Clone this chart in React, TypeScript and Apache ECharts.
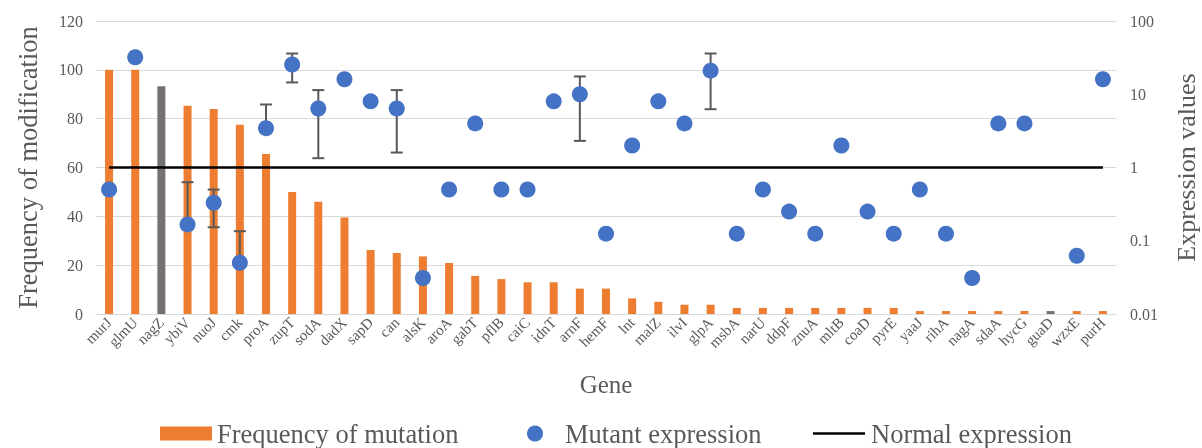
import React, { useEffect, useRef } from "react";
import * as echarts from "echarts";

const genes = ["murJ","glmU","nagZ","ybiV","nuoJ","cmk","proA","zupT","sodA","dadX","sapD","can","alsK","aroA","gabT","pflB","caiC","idnT","arnF","hemF","lnt","malZ","ilvI","glpA","msbA","narU","ddpF","znuA","mltB","coaD","pyrE","yaaJ","rihA","nagA","sdaA","hycG","guaD","wzxE","purH"];

const mutationFreq = [100,100,93.3,85.3,84,77.5,65.5,50,46,39.5,26.2,25,23.6,20.9,15.6,14.3,13,13,10.4,10.4,6.4,5,3.8,3.8,2.5,2.5,2.5,2.5,2.5,2.5,2.5,1.2,1.2,1.2,1.2,1.2,1.2,1.2,1.2];

const mutantExpr: (number | null)[] = [0.5,32,null,0.167,0.33,0.05,3.44,25.5,6.4,16,8,6.4,0.031,0.5,4,0.5,0.5,8,10,0.125,2,8,4,21,0.125,0.5,0.25,0.125,2,0.25,0.125,0.5,0.125,0.031,4,4,null,0.0625,16];

const errHigh: (number | null)[] = [null,null,null,0.63,0.5,0.135,7.25,36,11.4,null,null,11.4,null,null,null,null,null,null,17.5,null,null,null,null,36,null,null,null,null,null,null,null,null,null,null,null,null,null,null,null];
const errLow: (number | null)[] = [null,null,null,null,0.153,null,null,14.5,1.34,null,null,1.6,null,null,null,null,null,null,2.31,null,null,null,null,6.25,null,null,null,null,null,null,null,null,null,null,null,null,null,null,null];

const normalExpr = genes.map(() => 1);
const grayGenes = ["nagZ", "guaD"];

const FONT = "Liberation Serif";
const GRAY = "#595959";

export default function App() {
  const ref = useRef<HTMLDivElement>(null);
  useEffect(() => {
    const chart = echarts.init(ref.current!, null, { renderer: "svg" });
    const errData: any[] = [];
    genes.forEach((g, i) => {
      if (errHigh[i] != null) errData.push([i, errHigh[i]]);
    });
    const legendText = { fontSize: 26.5, color: GRAY, fontFamily: FONT, lineHeight: 22 };
    chart.setOption({
      animation: false,
      textStyle: { fontFamily: FONT },
      grid: { left: 96, right: 86, top: 21, bottom: 134, outerBoundsMode: "none", containLabel: false },
      legend: [
        {
          left: 155, top: 420, padding: [0, 5, 0, 5], icon: "rect", itemWidth: 52, itemHeight: 14,
          data: ["Frequency of mutation"],
          textStyle: legendText,
        },
        {
          left: 522, top: 420, padding: [0, 5, 0, 5], icon: "circle", itemWidth: 16, itemHeight: 16,
          data: ["Mutant expression"],
          textStyle: { ...legendText, padding: [0, 0, 0, 17] },
        },
        {
          left: 808, top: 420, padding: [0, 5, 0, 5], itemWidth: 52, itemHeight: 2.5,
          data: [{ name: "Normal expression", icon: "rect" }],
          itemStyle: { color: "#000000" },
          textStyle: { ...legendText, padding: [0, 0, 0, 1] },
        },
      ],
      xAxis: {
        type: "category",
        data: genes,
        boundaryGap: true,
        axisLine: { show: true, lineStyle: { color: "#D9D9D9", width: 1 } },
        axisTick: { show: false },
        axisLabel: { rotate: 45, interval: 0, fontSize: 15, color: GRAY, fontFamily: FONT, margin: 6 },
        name: "Gene",
        nameLocation: "middle",
        nameGap: 58,
        nameTextStyle: { fontSize: 25, color: GRAY, fontFamily: FONT },
      },
      yAxis: [
        {
          type: "value", min: 0, max: 120, interval: 20,
          axisLine: { show: false }, axisTick: { show: false },
          splitLine: { lineStyle: { color: "#D9D9D9", width: 1 } },
          axisLabel: { fontSize: 16, color: GRAY, fontFamily: FONT, margin: 13 },
          name: "Frequency of modification",
          nameLocation: "middle", nameRotate: 90, nameGap: 55,
          nameTextStyle: { fontSize: 26.5, color: GRAY, fontFamily: FONT },
        },
        {
          type: "log", logBase: 10, min: 0.01, max: 100,
          axisLine: { show: false }, axisTick: { show: false },
          splitLine: { show: false },
          axisLabel: {
            fontSize: 16, color: GRAY, fontFamily: FONT, margin: 14,
            formatter: (v: number) => (v >= 1 ? String(Math.round(v)) : String(Number(v.toPrecision(1)))),
          },
          name: "Expression values",
          nameLocation: "middle", nameRotate: 90, nameGap: 57,
          nameTextStyle: { fontSize: 26, color: GRAY, fontFamily: FONT },
        },
      ],
      series: [
        {
          name: "Frequency of mutation",
          type: "bar",
          barWidth: 8,
          itemStyle: { color: "#ED7D31" },
          z: 1,
          data: mutationFreq.map((v, i) =>
            grayGenes.includes(genes[i]) ? { value: v, itemStyle: { color: "#767171" } } : v
          ),
        },
        {
          name: "Normal expression",
          type: "line",
          yAxisIndex: 1,
          data: normalExpr,
          symbol: "none",
          lineStyle: { color: "#000000", width: 2.5 },
          itemStyle: { color: "#000000" },
          z: 3,
        },
        {
          name: "errors",
          type: "custom",
          yAxisIndex: 1,
          z: 4,
          data: errData,
          encode: { x: 0, y: 1 },
          renderItem: (params: any, api: any) => {
            const i = api.value(0);
            const hi = api.value(1);
            const center = mutantExpr[i] as number;
            const lo = errLow[i];
            const pHi = api.coord([i, hi]);
            const pC = api.coord([i, center]);
            const pLo = lo != null ? api.coord([i, lo]) : pC;
            const style = { stroke: GRAY, lineWidth: 2 };
            const children: any[] = [
              { type: "line", shape: { x1: pHi[0], y1: pHi[1], x2: pLo[0], y2: pLo[1] }, style },
              { type: "line", shape: { x1: pHi[0] - 6, y1: pHi[1], x2: pHi[0] + 6, y2: pHi[1] }, style },
            ];
            if (lo != null) {
              children.push({ type: "line", shape: { x1: pLo[0] - 6, y1: pLo[1], x2: pLo[0] + 6, y2: pLo[1] }, style });
            }
            return { type: "group", children };
          },
        },
        {
          name: "Mutant expression",
          type: "scatter",
          yAxisIndex: 1,
          symbolSize: 16,
          itemStyle: { color: "#4472C4", opacity: 1 },
          z: 5,
          data: mutantExpr.map((v) => (v == null ? "-" : v)),
        },
      ],
    });
    return () => chart.dispose();
  }, []);
  return <div ref={ref} style={{ position: "fixed", left: 0, top: 0, width: 1202, height: 448 }} />;
}
